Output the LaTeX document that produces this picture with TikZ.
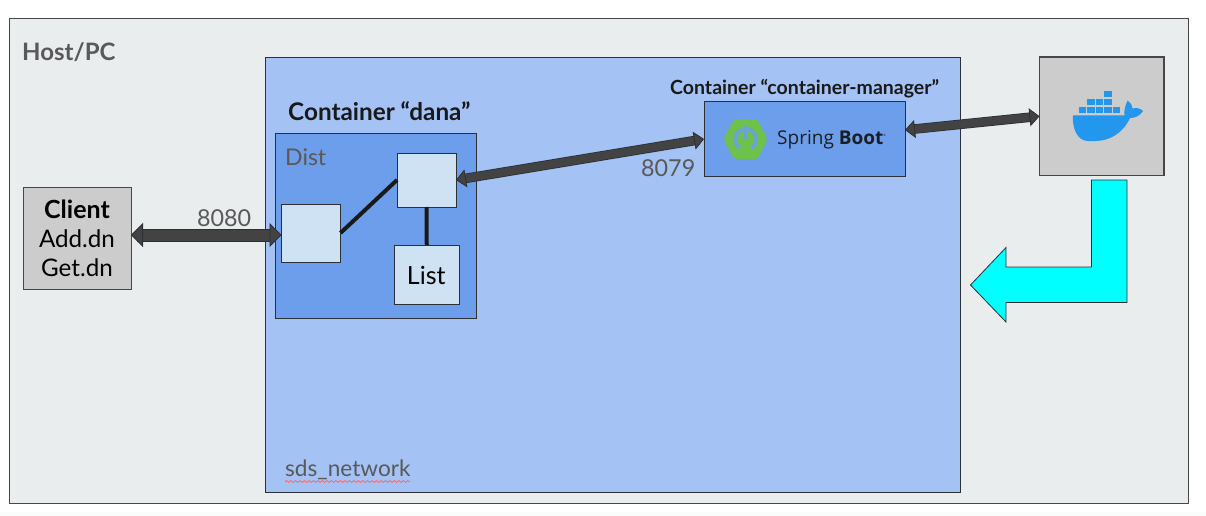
\documentclass[tikz,border=0pt]{standalone}
\usepackage{fontspec}
\setmainfont{Lato}
\newfontfamily\logofont{Open Sans}
\usetikzlibrary{arrows.meta,decorations.pathmorphing,calc}
\definecolor{hostc}{HTML}{E9EDEE}
\definecolor{netc}{HTML}{A4C2F4}
\definecolor{danac}{HTML}{6D9EEB}
\definecolor{boxc}{HTML}{CFE2F3}
\definecolor{greyc}{HTML}{CCCCCC}
\definecolor{txtc}{HTML}{595959}
\definecolor{edgec}{HTML}{2B2F36}
\definecolor{arrc}{HTML}{434343}
\definecolor{springc}{HTML}{6CC24A}
\definecolor{dockerc}{HTML}{2396ED}
\definecolor{inkc}{HTML}{1B1F23}
\definecolor{aquac}{HTML}{00FFFF}
\definecolor{stripc}{HTML}{FAFBFB}
\tikzset{
  x=1pt,y=-1pt,
  plain/.style={inner sep=0pt,anchor=base west},
  bigarrow/.style={line width=11pt,color=arrc,
    preaction={draw=edgec,line width=13pt,-,shorten >=6pt,shorten <=6pt},
    {Triangle[length=12pt,width=24pt,fill=arrc,color=edgec,line width=.8pt]}-{Triangle[length=12pt,width=24pt,fill=arrc,color=edgec,line width=.8pt]}},
  smallarrow/.style={line width=8pt,color=arrc,
    preaction={draw=edgec,line width=9.6pt,-,shorten >=5pt,shorten <=5pt},
    {Triangle[length=10pt,width=18pt,fill=arrc,color=edgec,line width=.8pt]}-{Triangle[length=10pt,width=18pt,fill=arrc,color=edgec,line width=.8pt]}},
  linkline/.style={draw=black!90,line width=4pt},
  crate/.style={fill=dockerc,draw=none},
}
\newcommand{\panelbox}[7]{% name, x0, y0, x1, y1, fill, text
  \node[draw=edgec,line width=1pt,fill=#6,inner sep=0pt,outer sep=0pt,minimum width={(#4-#2)*1pt},minimum height={(#5-#3)*1pt},anchor=north west,align=center] (#1) at (#2,#3) {#7};}
\begin{document}
\begin{tikzpicture}
\useasboundingbox (0,0) rectangle (1206,516);
\fill[white] (0,0) rectangle (1206,516);
\fill[stripc] (0,512) rectangle (1206,516);
\panelbox{host}{9.5}{18.5}{1188.5}{503.5}{hostc,draw=txtc!80!black,line width=1.5pt}{}
\panelbox{net}{265.5}{57.5}{960}{492}{netc}{}
\panelbox{dana}{275.5}{133}{476}{318}{danac}{}
\panelbox{client}{23}{187}{131}{289.5}{greyc,draw=txtc!80!black}{}
\panelbox{left}{281.5}{204}{340.5}{262}{boxc}{}
\panelbox{top}{397}{153}{456}{207}{boxc}{}
\panelbox{list}{394.5}{245}{459}{304}{boxc}{}
\panelbox{spring}{704}{102}{905}{176}{danac}{}
\panelbox{docker}{1039.5}{57}{1164}{175.5}{greyc,draw=txtc!80!black,line width=1.3pt}{}
% texts
\node[plain,font=\bfseries\fontsize{24}{24}\selectfont,text=txtc] (hosttxt) at (22,61) {Host/PC};
\node[plain,font=\fontsize{22.6}{22.6}\selectfont,text=txtc] (nettxt) at (285,476) {sds\_network};
\node[plain,font=\fontsize{23}{23}\selectfont,text=txtc] (disttxt) at (285,165) {Dist};
\node[plain,font=\bfseries\fontsize{24.3}{24.3}\selectfont,text=black!90] (danatxt) at (288,121) {Container “dana”};
\node[plain,font=\bfseries\fontsize{19.5}{19.5}\selectfont,text=black!90] (mgrtxt) at (670,95) {Container “container-manager”};
\node[plain,font=\fontsize{23.3}{23.3}\selectfont,text=txtc] (p8080) at (197,226) {8080};
\node[plain,font=\fontsize{23.3}{23.3}\selectfont,text=txtc] (p8079) at (641,176) {8079};
\node[inner sep=0pt,align=center,font=\fontsize{24.2}{29}\selectfont] (clienttxt) at (client.center) {{\bfseries\fontsize{25}{29}\selectfont Client}\\Add.dn\\Get.dn};
\node[inner sep=0pt,font=\fontsize{25}{25}\selectfont] (listtxt) at ([xshift=-.5pt,yshift=-1pt]list.center) {List};
% squiggle
\draw[draw=red!60!white,line width=.8pt,decorate,decoration={snake,amplitude=.9pt,segment length=4.5pt}] (285,481.5) coordinate (sq1) -- (410,481.5) coordinate (sq2);
% links
\draw[linkline] (left.east) -- (top.west);
\draw[linkline] (top.south) -- (list.north);
% block arrows
\draw[bigarrow] ([yshift=3.25pt]client.east) -- ([yshift=-2pt]left.west);
\draw[smallarrow] (top.east) -- (spring.west);
\draw[smallarrow] ([yshift=9pt]spring.east) -- (docker.west);
% cyan arrow
\path[fill=aquac,draw=edgec,line width=.8pt] (1091.5,180) -- (1127,180) -- (1127,302.5) -- (1006,302.5) -- (1006,322) -- (970.5,285) -- (1006,247.5) -- (1006,267) -- (1091.5,267) -- cycle;
% spring logo
\fill[springc,rounded corners=2pt] (723.5,139) -- (734,119.5) -- (757.5,119.5) -- (767.5,139) -- (757.5,159) -- (734,159) -- cycle;
\draw[danac!85!springc,line width=3.8pt] (745.6,139.5) ++(55:10.5) arc[start angle=55,end angle=-235,radius=10.5];
\draw[danac!85!springc,line width=3.4pt] (745.6,126) -- (745.6,140);
\node[inner sep=0pt,anchor=base west,font=\logofont\fontsize{19}{19}\selectfont,text=inkc] (springtxt) at (777,144) {Spring \textbf{Boot}\raisebox{8pt}{\fontsize{3}{3}\selectfont ®}};
% docker logo
\foreach \xa/\ya in {1079/107,1087.3/107,1095.7/107,1104.3/107,1113/107,1087.3/99,1095.7/99,1104.3/99,1104.3/91}
  \fill[crate] (\xa,\ya) rectangle (\xa+7.2,\ya+6.4);
\fill[dockerc] (1073,115.3) -- (1124.5,115.3)
  .. controls (1124,110) and (1125,106) .. (1127.5,100.7)
  .. controls (1131,103) and (1132.5,106) .. (1132.5,108.5)
  .. controls (1136,107.5) and (1140,108) .. (1143,111)
  .. controls (1140,116) and (1135,118) .. (1130,118)
  .. controls (1123,133) and (1110,141) .. (1095,141)
  -- (1087,141) .. controls (1077,140) and (1072,128) .. (1073,115.3) -- cycle;
\end{tikzpicture}
\end{document}
